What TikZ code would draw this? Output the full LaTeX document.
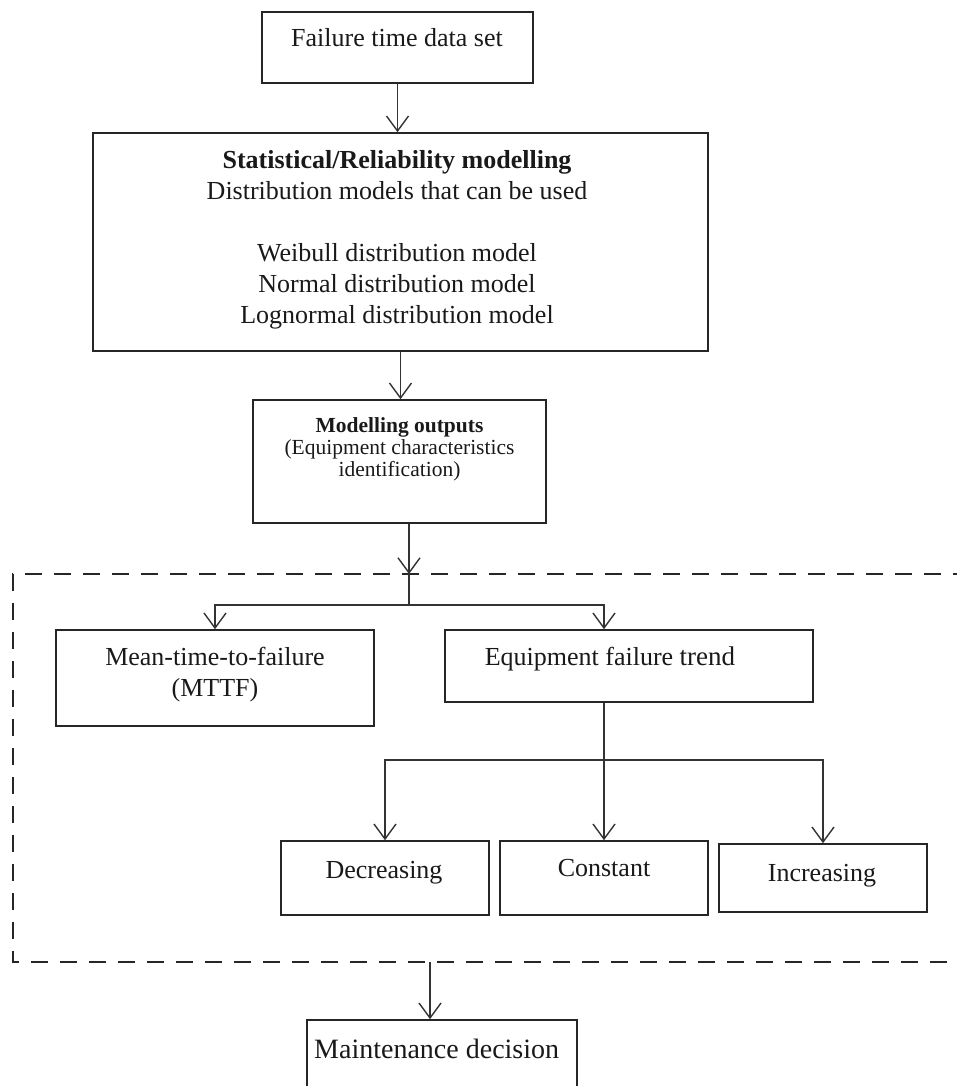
\documentclass[tikz,border=0pt]{standalone}
\usepackage{fontspec}
\setmainfont{Liberation Serif}
\usetikzlibrary{arrows.meta}
\begin{document}
\begin{tikzpicture}[x=1pt,y=-1pt,
  box/.style={draw=black!85, line width=1.6pt, rectangle, inner sep=0pt},
  conn/.style={draw=black!80, line width=1.4pt},
  arr/.style={conn, -{Straight Barb[length=15pt,width=22pt]}},
  txt/.style={font=\fontsize{26}{31}\selectfont, align=center, inner sep=0pt, anchor=base, text=black!90},
  small/.style={font=\fontsize{21.5}{22}\selectfont, align=center, inner sep=0pt, anchor=base, text=black!90},
  frame/.style={draw=black!85, line width=1.8pt, dash pattern=on 17pt off 12pt}]
\useasboundingbox (0,0) rectangle (957,1086);
\clip (0,0) rectangle (957,1086);

% boxes
\node[box, minimum width=271pt, minimum height=71pt]  (data)    at (397.5,47.5) {};
\node[box, minimum width=615pt, minimum height=218pt] (model)   at (400.5,242) {};
\node[box, minimum width=293pt, minimum height=123pt] (outputs) at (399.5,461.5) {};
\node[box, minimum width=318pt, minimum height=96pt]  (mttf)    at (215,678) {};
\node[box, minimum width=368pt, minimum height=72pt]  (trend)   at (629,666) {};
\node[box, minimum width=208pt, minimum height=74pt]  (dec)     at (385,878) {};
\node[box, minimum width=208pt, minimum height=74pt]  (const)   at (604,878) {};
\node[box, minimum width=208pt, minimum height=68pt]  (inc)     at (823,878) {};
\node[box, minimum width=270pt, minimum height=90pt]  (maint)   at (442,1065) {};

% box texts (multi-line texts are placed by the baseline of their last line)
\node[txt] at (397,47) {Failure time data set};
\node[txt] at (397,323) {\textbf{Statistical/Reliability modelling}\\Distribution models that can be used\\[31pt]Weibull distribution model\\Normal distribution model\\Lognormal distribution model};
\node[small] at (399.5,476) {\textbf{Modelling outputs}\\(Equipment characteristics\\identification)};
\node[txt] at (215,696) {Mean-time-to-failure\\(MTTF)};
\node[txt] at (610,665) {Equipment failure {\fontsize{27}{31}\selectfont trend}};
\node[txt] at (384,878) {Decreasing};
\node[txt] at (604,876) {Constant};
\node[txt] at (822,881) {Increasing};
\node[txt, anchor=base west, font=\fontsize{28}{31}\selectfont] at (314,1058) {Maintenance decision};

% dashed frame (open to the right)
\draw[frame] (970,574) -- (13,574) -- (13,962) -- (970,962);

% points on the frame and junctions
\coordinate (ftop)  at (409,574);
\coordinate (split) at (409,605);
\coordinate (fork)  at (604,760);
\coordinate (fbot)  at (430,962);

% connectors
\draw[arr] (data.south) -- (data.south |- model.north);
\draw[arr] (model.south) -- (model.south |- outputs.north);
\draw[arr] (outputs.south -| ftop) -- (ftop);
\draw[conn] (ftop) -- (split);
\draw[arr] (split) -| (mttf.north);
\draw[arr] (split) -| (trend.north -| const.north);
\draw[conn] (trend.south -| const.north) -- (fork);
\draw[arr] (fork) -| (dec.north);
\draw[arr] (fork) -- (const.north);
\draw[arr] (fork) -| (inc.north);
\draw[arr] (fbot) -- (fbot |- maint.north);
\end{tikzpicture}
\end{document}
